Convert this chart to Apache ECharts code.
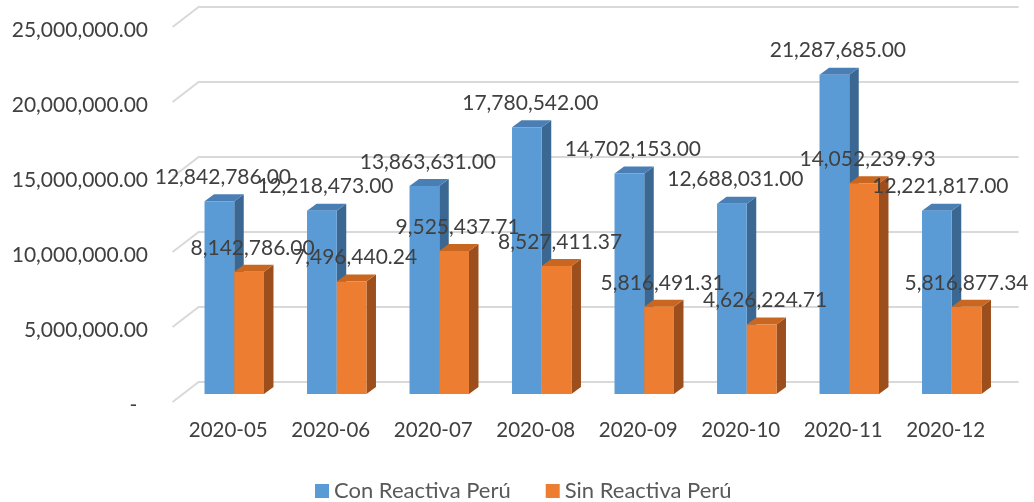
<!DOCTYPE html>
<html>
<head>
<meta charset="utf-8">
<script src="https://cdn.jsdelivr.net/npm/echarts@6/dist/echarts.min.js"></script>
<style>
  html, body { margin: 0; padding: 0; background: #fff; }
  #chart { width: 1034px; height: 502px; }
</style>
</head>
<body>
<div id="chart"></div>
<script>
var months = ['2020-05', '2020-06', '2020-07', '2020-08', '2020-09', '2020-10', '2020-11', '2020-12'];
var conReactiva = [12842786.00, 12218473.00, 13863631.00, 17780542.00, 14702153.00, 12688031.00, 21287685.00, 12221817.00];
var sinReactiva = [8142786.00, 7496440.24, 9525437.71, 8527411.37, 5816491.31, 4626224.71, 14052239.93, 5816877.34];
var seriesNames = ['Con Reactiva Perú', 'Sin Reactiva Perú'];
var yTicks = [0, 5000000, 10000000, 15000000, 20000000, 25000000];

var FONT = 'Lato';
var TEXT_COLOR = '#404040';
// faces: front, top, side
var palette = [
    { front: '#5b9bd5', top: '#4a7fb6', side: '#3b6892' },
    { front: '#ed7d31', top: '#c9661f', side: '#9c4f1c' }
];
var DX = 9.5, DY = -7;   // bar depth

function fmt(v) {
    if (v === 0) return '-  ';
    return v.toLocaleString('en-US', { minimumFractionDigits: 2, maximumFractionDigits: 2 });
}

function toData(arr) {
    return arr.map(function (v, i) { return [i, v]; });
}

// geometry of a bar from the axes
function barBox(params, api, k) {
    var idx = api.value(0);
    var top = api.coord([idx, api.value(1)]);
    var base = api.coord([idx, 0]);
    var w = api.size([1, 0])[0] * 0.29;
    var x0 = k === 0 ? top[0] - w : top[0];
    return { x0: x0, x1: x0 + w, yt: top[1], yb: base[1], w: w };
}

function barRenderer(k) {
    var c = palette[k];
    return function (params, api) {
        var b = barBox(params, api, k);
        return {
            type: 'group',
            children: [
                { type: 'polygon', shape: { points: [[b.x1, b.yt], [b.x1 + DX, b.yt + DY], [b.x1 + DX, b.yb + DY], [b.x1, b.yb]] }, style: { fill: c.side } },
                { type: 'polygon', shape: { points: [[b.x0, b.yt], [b.x1, b.yt], [b.x1 + DX, b.yt + DY], [b.x0 + DX, b.yt + DY]] }, style: { fill: c.top } },
                { type: 'rect', shape: { x: b.x0, y: b.yt, width: b.w, height: b.yb - b.yt }, style: { fill: c.front } }
            ]
        };
    };
}

function labelRenderer(k) {
    return function (params, api) {
        var b = barBox(params, api, k);
        var cs = params.coordSys;
        var x = Math.min((b.x0 + b.x1) / 2 + 3.5, cs.x + cs.width - 36.5);
        return {
            type: 'text',
            x: x,
            y: b.yt - 24,
            style: {
                text: fmt(api.value(1)),
                fill: TEXT_COLOR,
                font: '21px ' + FONT,
                align: 'center',
                verticalAlign: 'middle'
            }
        };
    };
}

function gridRenderer(params, api) {
    var cs = params.coordSys;
    var y = api.coord([0, api.value(1)])[1];
    var lx = cs.x, rx = cs.x + cs.width;
    return {
        type: 'polyline',
        shape: { points: [[lx - 10.4, y + 8], [lx + 15.6, y - 12], [rx + 15.6, y - 12]] },
        style: { stroke: '#d9d9d9', lineWidth: 2, fill: null }
    };
}

var chart = echarts.init(document.getElementById('chart'));
chart.setOption({
    animation: false,
    textStyle: { fontFamily: FONT },
    grid: { left: 183, right: 31, top: 19, bottom: 108 },
    xAxis: {
        type: 'category',
        data: months,
        axisLine: { show: false },
        axisTick: { show: false },
        axisLabel: { interval: 0, margin: 26, fontSize: 20.5, color: TEXT_COLOR, padding: [0, 12, 0, 0] }
    },
    yAxis: {
        type: 'value',
        min: 0,
        max: 25000000,
        interval: 5000000,
        splitLine: { show: false },
        axisLine: { show: false },
        axisTick: { show: false },
        axisLabel: { margin: 35, fontSize: 21, color: TEXT_COLOR, verticalAlign: 'top', lineHeight: 22, formatter: fmt }
    },
    legend: {
        top: 475,
        left: 310,
        icon: 'rect',
        itemWidth: 14,
        itemHeight: 14,
        itemGap: 35,
        data: seriesNames,
        textStyle: { fontSize: 22, color: '#595959', fontFamily: FONT }
    },
    series: [
        { type: 'custom', name: 'grid', z: 1, silent: true, data: yTicks.map(function (v) { return [0, v]; }), renderItem: gridRenderer },
        { type: 'custom', name: seriesNames[0], z: 2, itemStyle: { color: palette[0].front }, data: toData(conReactiva), renderItem: barRenderer(0) },
        { type: 'custom', name: seriesNames[1], z: 3, itemStyle: { color: palette[1].front }, data: toData(sinReactiva), renderItem: barRenderer(1) },
        { type: 'custom', name: 'lab0', z: 5, silent: true, data: toData(conReactiva), renderItem: labelRenderer(0) },
        { type: 'custom', name: 'lab1', z: 6, silent: true, data: toData(sinReactiva), renderItem: labelRenderer(1) }
    ]
});
</script>
</body>
</html>
